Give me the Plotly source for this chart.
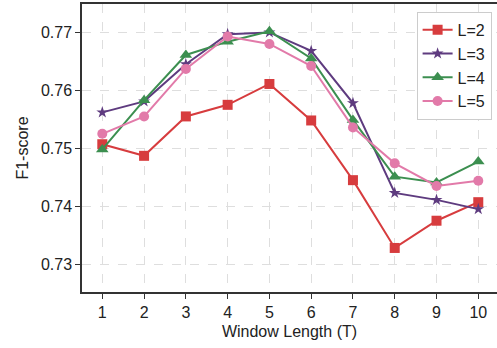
import plotly.graph_objects as go

window_length = [1, 2, 3, 4, 5, 6, 7, 8, 9, 10]
f1_L2 = [0.7507, 0.7487, 0.7555, 0.7575, 0.7611, 0.7548, 0.7445, 0.7328, 0.7375, 0.7407]
f1_L3 = [0.7562, 0.7581, 0.7645, 0.7697, 0.7700, 0.7668, 0.7578, 0.7423, 0.7411, 0.7395]
f1_L4 = [0.7498, 0.7583, 0.7661, 0.7684, 0.7702, 0.7655, 0.7549, 0.7451, 0.7441, 0.7477]
f1_L5 = [0.7525, 0.7555, 0.7637, 0.7693, 0.7680, 0.7642, 0.7536, 0.7474, 0.7435, 0.7444]

series = [
    ("L=2", f1_L2, "#d73c3e", "square", 10),
    ("L=3", f1_L3, "#5e3b7f", "star", 9),
    ("L=4", f1_L4, "#3c8f50", "triangle-up", 11),
    ("L=5", f1_L5, "#e27aa9", "circle", 10),
]

font_family = "Liberation Sans, Arial, sans-serif"

fig = go.Figure()
for name, ys, color, symbol, size in series:
    fig.add_trace(go.Scatter(
        x=window_length, y=ys, name=name, mode="lines+markers",
        line=dict(color=color, width=2),
        marker=dict(symbol=symbol, size=size, color=color, line=dict(width=0)),
    ))

fig.update_layout(
    width=497, height=348,
    margin=dict(l=82, r=0, t=4, b=56),
    plot_bgcolor="white", paper_bgcolor="white",
    font=dict(family=font_family, size=16, color="#222222"),
    showlegend=True,
    legend=dict(
        x=0.987, y=0.973, xanchor="right", yanchor="top",
        bgcolor="white", bordercolor="#cccccc", borderwidth=1,
        font=dict(size=16, color="#222222"),
        tracegroupgap=0, itemwidth=30,
    ),
)
fig.update_xaxes(
    range=[0.514, 10.448], tickmode="array", tickvals=window_length,
    ticktext=[str(v) for v in window_length],
    showline=True, linecolor="#333333", linewidth=1.5, mirror=True,
    ticks="outside", ticklen=5, tickwidth=1.2, tickcolor="#333333",
    showgrid=True, gridcolor="#dedede", griddash="dash", gridwidth=1,
    zeroline=False,
    title=dict(text="Window Length (T)", standoff=6, font=dict(size=16)),
    tickfont=dict(size=16),
)
fig.update_yaxes(
    range=[0.7252, 0.7749], tickvals=[0.73, 0.74, 0.75, 0.76, 0.77],
    ticktext=["0.73", "0.74", "0.75", "0.76", "0.77"],
    showline=True, linecolor="#333333", linewidth=1.5, mirror=False,
    ticks="outside", ticklen=5, tickwidth=1.2, tickcolor="#333333",
    showgrid=True, gridcolor="#dedede", griddash="dash", gridwidth=1,
    zeroline=False,
    title=dict(text="F1-score", standoff=8, font=dict(size=16)),
    tickfont=dict(size=16),
)

fig.write_html("out.html")
